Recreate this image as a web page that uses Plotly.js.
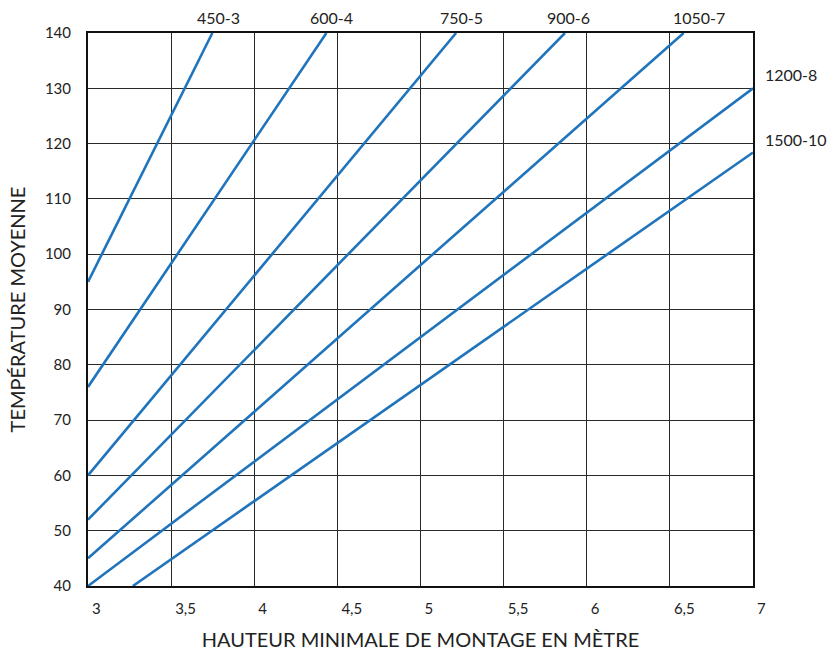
<!DOCTYPE html>
<html>
<head>
<meta charset="utf-8">
<script src="https://cdn.plot.ly/plotly-3.0.1.min.js"></script>
<style>html,body{margin:0;padding:0;background:#fff;}#chart{width:837px;height:653px;}</style>
</head>
<body>
<div id="chart"></div>
<script>
// Series names
var seriesNames = ["450-3", "600-4", "750-5", "900-6", "1050-7", "1200-8", "1500-10"];
// Line end points (x: hauteur en m, y: température)
var x450 = [3, 3.748];   var y450 = [95, 140];
var x600 = [3, 4.434];   var y600 = [76, 140];
var x750 = [3, 5.214];   var y750 = [60, 140];
var x900 = [3, 5.869];   var y900 = [52, 140];
var x1050 = [3, 6.583];  var y1050 = [45, 140];
var x1200 = [3, 7];      var y1200 = [40, 130];
var x1500 = [3.27, 7];   var y1500 = [40, 118.4];
// Axis ticks
var xTicks = [3, 3.5, 4, 4.5, 5, 5.5, 6, 6.5, 7];
var yTicks = [40, 50, 60, 70, 80, 90, 100, 110, 120, 130, 140];

var xs = [x450, x600, x750, x900, x1050, x1200, x1500];
var ys = [y450, y600, y750, y900, y1050, y1200, y1500];

var lineColor = "#1f74bb";
var font = "Lato, 'Open Sans', sans-serif";

var traces = seriesNames.map(function (n, i) {
  return {
    x: xs[i], y: ys[i], name: n, mode: "lines", type: "scatter",
    line: {color: lineColor, width: 2.6},
    hoverinfo: "skip", showlegend: false
  };
});

// label placement (layout only)
var labelStyle = [
  {xshift: 6, yshift: 0, top: true},
  {xshift: 5, yshift: 0, top: true},
  {xshift: 5, yshift: 0, top: true},
  {xshift: 4, yshift: 0, top: true},
  {xshift: 15, yshift: 0, top: true},
  {xshift: 10, yshift: 14, top: false},
  {xshift: 10, yshift: 13, top: false}
];

var annotations = seriesNames.map(function (n, i) {
  var st = labelStyle[i];
  var xe = xs[i][xs[i].length - 1];
  var ye = ys[i][ys[i].length - 1];
  if (st.top) {
    return {x: xe, y: ye, xref: "x", yref: "y", text: n, showarrow: false,
      xanchor: "center", yanchor: "middle", xshift: st.xshift, yshift: 16,
      font: {family: font, size: 16, color: "#222"}};
  }
  return {x: xe, y: ye, xref: "x", yref: "y", text: n, showarrow: false,
    xanchor: "left", yanchor: "middle", xshift: st.xshift, yshift: st.yshift,
    font: {family: font, size: 16, color: "#222"}};
});

var layout = {
  width: 837, height: 653,
  margin: {l: 88, r: 84, t: 33, b: 67, pad: 0},
  paper_bgcolor: "#fff", plot_bgcolor: "#fff",
  separators: ", ",
  font: {family: font, color: "#222"},
  xaxis: {
    range: [3, 7], tickvals: xTicks, ticktext: xTicks.map(function (v) { return String(v).replace(".", ","); }),
    showgrid: true, gridcolor: "#2a2a2a", gridwidth: 1,
    zeroline: false, showline: true, linecolor: "#111", linewidth: 2, mirror: true,
    ticks: "", ticklabelposition: "outside right", ticklabelshift: 3, ticklabelstandoff: 8,
    tickfont: {family: font, size: 15, color: "#222"},
    title: {text: "HAUTEUR MINIMALE DE MONTAGE EN MÈTRE", font: {family: font, size: 20, color: "#222"}, standoff: 17}
  },
  yaxis: {
    range: [40, 140], tickvals: yTicks,
    showgrid: true, gridcolor: "#2a2a2a", gridwidth: 1,
    zeroline: false, showline: true, linecolor: "#111", linewidth: 2, mirror: true,
    ticks: "", ticklabelshift: 4.5, ticklabelstandoff: 12,
    tickfont: {family: font, size: 15, color: "#222"},
    title: {text: "TEMPÉRATURE MOYENNE", font: {family: font, size: 20, color: "#222"}, standoff: 14}
  },
  annotations: annotations
};

Plotly.newPlot("chart", traces, layout, {displayModeBar: false, staticPlot: true});
</script>
</body>
</html>
